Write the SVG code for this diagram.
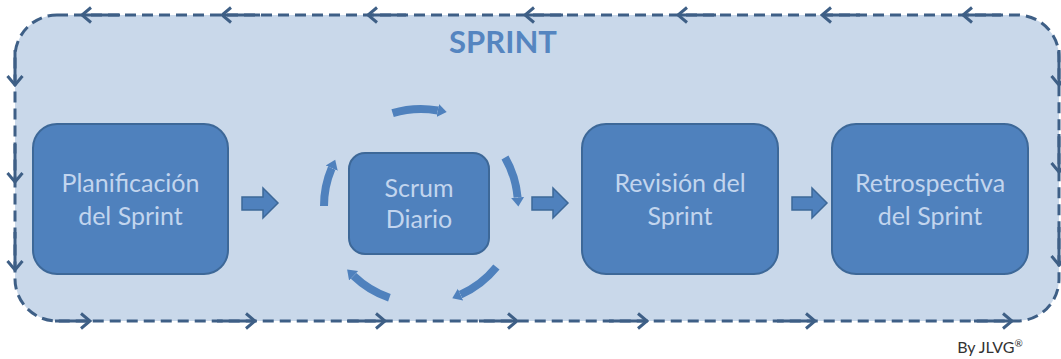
<svg xmlns="http://www.w3.org/2000/svg" width="1061" height="359" viewBox="0 0 1061 359">
  <style>
    .frame { fill: #c9d8ea; stroke: #3e5f86; stroke-width: 3; stroke-dasharray: 11 6; }
    .flow { fill: none; stroke: #3e5f86; stroke-width: 3; marker-end: url(#chev); }
    .box { fill: #4f81bd; stroke: #3d6898; stroke-width: 2; }
    .lbl { font-family: Lato, "Liberation Sans", sans-serif; font-size: 25px; fill: #c2d5ee; text-anchor: middle; }
    .blk { fill: #4f81bd; stroke: #3d6898; stroke-width: 1.5; }
    .cyc { fill: none; stroke: #4f81bd; stroke-width: 8; marker-end: url(#tri); }
  </style>
  <defs>
    <marker id="chev" viewBox="-12 -10 14 20" markerWidth="14" markerHeight="20" refX="0" refY="0" orient="auto" markerUnits="userSpaceOnUse">
      <path d="M-9,-7.5 L0,0 L-9,7.5" fill="none" stroke="#3e5f86" stroke-width="3" stroke-linejoin="miter"/>
    </marker>
    <marker id="tri" viewBox="0 -8 12 16" markerWidth="12" markerHeight="16" refX="0" refY="0" orient="auto" markerUnits="userSpaceOnUse">
      <path d="M0,-6.5 L9,0 L0,6.5 Z" fill="#4f81bd"/>
    </marker>
  </defs>

  <rect width="1061" height="359" fill="#ffffff"/>

  <g id="sprint-frame">
    <rect class="frame" x="15" y="15" width="1044" height="306" rx="42" ry="42"/>
    <text x="503" y="53" font-family="Lato, 'Liberation Sans', sans-serif" font-size="31" font-weight="bold" fill="#5585c0" text-anchor="middle">SPRINT</text>
  </g>

  <g id="connectors">
    <!-- top, leftward -->
    <path class="flow" d="M120,15 H82"/>
    <path class="flow" d="M260,15 H222"/>
    <path class="flow" d="M406,15 H368"/>
    <path class="flow" d="M563,15 H525"/>
    <path class="flow" d="M716,15 H678"/>
    <path class="flow" d="M860,15 H822"/>
    <path class="flow" d="M1001,15 H963"/>
    <!-- left, downward -->
    <path class="flow" d="M15,50 V85"/>
    <path class="flow" d="M15,144 V182"/>
    <path class="flow" d="M15,232 V270"/>
    <!-- bottom, rightward -->
    <path class="flow" d="M55,321 H90"/>
    <path class="flow" d="M217,321 H255"/>
    <path class="flow" d="M347,321 H385"/>
    <path class="flow" d="M479,321 H517"/>
    <path class="flow" d="M609,321 H647"/>
    <path class="flow" d="M777,321 H815"/>
    <path class="flow" d="M974,321 H1012"/>
    <!-- right, downward -->
    <path class="flow" d="M1059,50 V85"/>
    <path class="flow" d="M1059,134 V172"/>
    <path class="flow" d="M1059,227 V265"/>

    <!-- block arrows -->
    <polygon class="blk" points="242,197 263,197 263,188 278,203 263,218 263,210 242,210"/>
    <polygon class="blk" points="532,197 553,197 553,188 568,203 553,218 553,210 532,210"/>
    <polygon class="blk" points="792,197 812,197 812,188 827,203 812,218 812,210 792,210"/>

    <!-- daily cycle arcs -->
    <path class="cyc" d="M392.6,113.2 A97,97 0 0 1 437.8,110.5"/>
    <path class="cyc" d="M505.0,157.5 A97,97 0 0 1 517.6,197.5"/>
    <path class="cyc" d="M496.4,267.0 A97,97 0 0 1 460.5,294.6"/>
    <path class="cyc" d="M389.4,297.7 A97,97 0 0 1 353.6,275.8"/>
    <path class="cyc" d="M324,206 A97,97 0 0 1 331.7,168.1"/>
  </g>

  <g id="planificacion">
    <rect class="box" x="33" y="124" width="195" height="150" rx="24" ry="24"/>
    <text class="lbl" x="130.5" y="192">Planificación</text>
    <text class="lbl" x="130.5" y="225">del Sprint</text>
  </g>

  <g id="scrum-diario">
    <rect class="box" x="349" y="153" width="140" height="101" rx="16" ry="16"/>
    <text class="lbl" x="419" y="197">Scrum</text>
    <text class="lbl" x="419" y="228">Diario</text>
  </g>

  <g id="revision">
    <rect class="box" x="582" y="124" width="196" height="150" rx="24" ry="24"/>
    <text class="lbl" x="680" y="192">Revisión del</text>
    <text class="lbl" x="680" y="225">Sprint</text>
  </g>

  <g id="retrospectiva">
    <rect class="box" x="832" y="124" width="196" height="150" rx="24" ry="24"/>
    <text class="lbl" x="930" y="192">Retrospectiva</text>
    <text class="lbl" x="930" y="225">del Sprint</text>
  </g>

  <g id="credit">
    <text x="990" y="353" font-family="Lato, 'Liberation Sans', sans-serif" font-size="16" fill="#333333" text-anchor="middle">By JLVG<tspan font-size="10" dy="-6">®</tspan></text>
  </g>
</svg>
